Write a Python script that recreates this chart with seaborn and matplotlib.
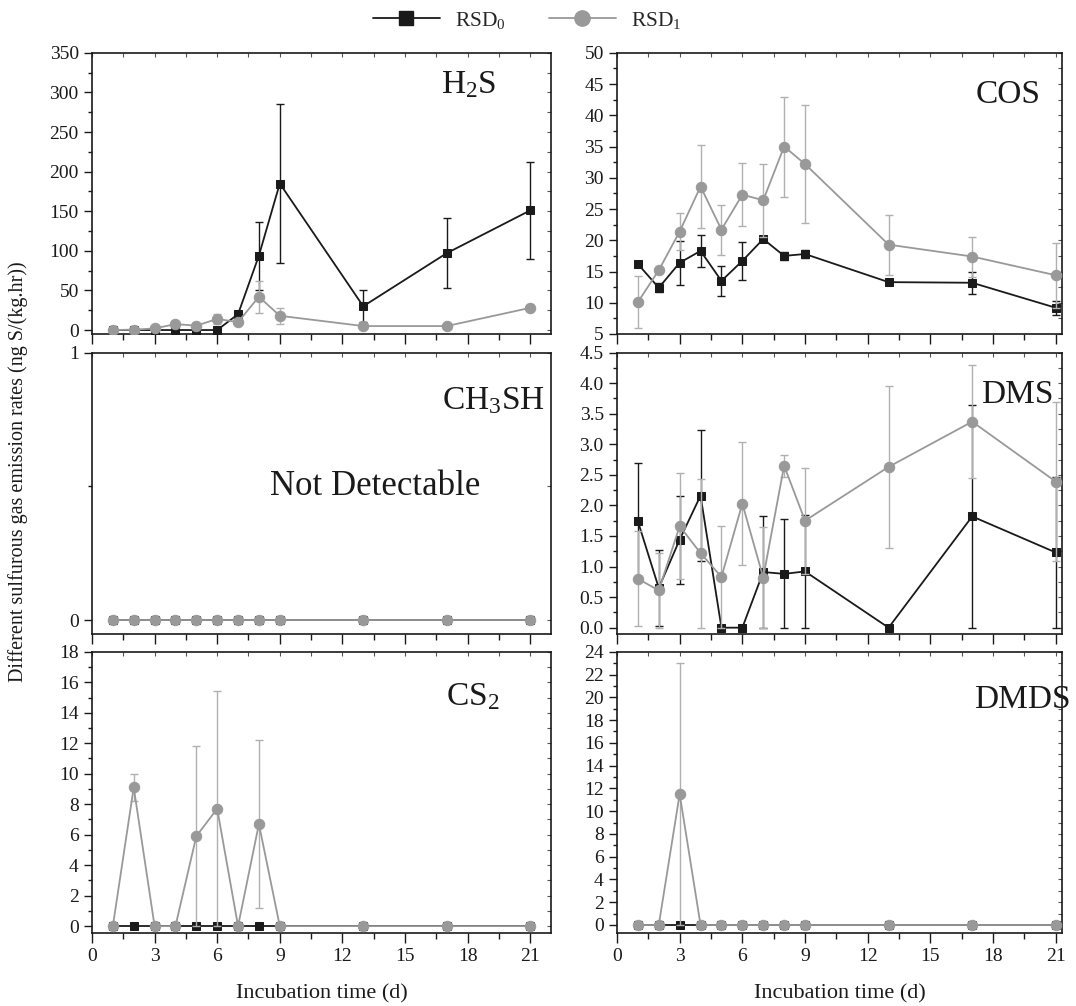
import numpy as np
import matplotlib.pyplot as plt
import seaborn as sns
from matplotlib.ticker import MultipleLocator
from matplotlib.lines import Line2D

# incubation days
days = [1, 2, 3, 4, 5, 6, 7, 8, 9, 13, 17, 21]

# H2S
h2s_rsd0 = [0, 0, 0, 0, 0, 0, 20, 94, 185, 30, 97, 151]
h2s_rsd0_err = [1, 1, 1, 1, 1, 1, 3, 43, 100, 20, 44, 61]
h2s_rsd1 = [0, 0.5, 2, 7.5, 5.5, 14, 10, 42, 18, 5, 5, 28]
h2s_rsd1_err = [1, 1, 2, 4, 3, 6, 3, 20, 10, 2, 2, 3]

# COS
cos_rsd0 = [16.2, 12.4, 16.4, 18.3, 13.5, 16.7, 20.2, 17.5, 17.8, 13.3, 13.2, 9.2]
cos_rsd0_err = [0.5, 0.7, 3.5, 2.6, 2.4, 3.0, 0.5, 0.6, 0.7, 0.4, 1.8, 1.1]
cos_rsd1 = [10.1, 15.2, 21.4, 28.6, 21.7, 27.3, 26.4, 35.0, 32.2, 19.3, 17.4, 14.4]
cos_rsd1_err = [4.2, 0.5, 3.0, 6.6, 4.0, 5.0, 5.8, 8.0, 9.5, 4.8, 3.2, 5.2]

# CH3SH (not detectable)
ch3sh_rsd0 = [0] * 12
ch3sh_rsd1 = [0] * 12
ch3sh_err = [0] * 12

# DMS
dms_rsd0 = [1.74, 0.65, 1.44, 2.16, 0, 0, 0.91, 0.88, 0.92, 0, 1.82, 1.23]
dms_rsd0_err = [0.95, 0.62, 0.72, 1.07, 0, 0, 0.91, 0.89, 0.92, 0, 1.82, 1.23]
dms_rsd1 = [0.80, 0.61, 1.66, 1.22, 0.83, 2.03, 0.82, 2.65, 1.75, 2.63, 3.37, 2.39]
dms_rsd1_err = [0.78, 0.61, 0.87, 1.22, 0.83, 1.01, 0.83, 0.18, 0.87, 1.33, 0.92, 1.30]

# CS2
cs2_rsd0 = [0] * 12
cs2_rsd0_err = [0] * 12
cs2_rsd1 = [0, 9.1, 0, 0, 5.9, 7.7, 0, 6.7, 0, 0, 0, 0]
cs2_rsd1_err = [0, 0.9, 0, 0, 5.9, 7.7, 0, 5.5, 0, 0, 0, 0]

# DMDS
dmds_rsd0 = [0] * 12
dmds_rsd0_err = [0] * 12
dmds_rsd1 = [0, 0, 11.5, 0, 0, 0, 0, 0, 0, 0, 0, 0]
dmds_rsd1_err = [0, 0, 11.5, 0, 0, 0, 0, 0, 0, 0, 0, 0]

sns.set_style('ticks')
plt.rcParams['font.family'] = ['Liberation Serif', 'DejaVu Serif']
plt.rcParams['mathtext.fontset'] = 'custom'
plt.rcParams['mathtext.rm'] = 'Liberation Serif'
plt.rcParams['mathtext.it'] = 'Liberation Serif:italic'
plt.rcParams['mathtext.default'] = 'regular'

BLACK = '#1a1a1a'
GREY = '#999999'
GREY_ERR = '#b0b0b0'

fig = plt.figure(figsize=(10.76, 10.06), dpi=100)

col_left = [0.0855, 0.5734]
col_width = [0.4266, 0.4136]
row_bottom = [0.668, 0.370, 0.0726]
row_h = 0.2795


def draw(ax, r0, e0, r1, e1):
    r0 = np.array(r0, float); e0 = np.array(e0, float)
    r1 = np.array(r1, float); e1 = np.array(e1, float)
    ax.errorbar(days, r0, yerr=[np.minimum(e0, r0), e0], fmt='none',
                ecolor=BLACK, elinewidth=1.0, capsize=3, capthick=1.0, zorder=2)
    sns.lineplot(x=days, y=r0, ax=ax, color=BLACK, marker='s', markersize=6,
                 markeredgecolor=BLACK, linewidth=1.3, zorder=3)
    ax.errorbar(days, r1, yerr=[np.minimum(e1, r1), e1], fmt='none',
                ecolor=GREY_ERR, elinewidth=1.0, capsize=3, capthick=1.0, zorder=4)
    sns.lineplot(x=days, y=r1, ax=ax, color=GREY, marker='o', markersize=7.5,
                 markeredgecolor=GREY, linewidth=1.3, zorder=5)


def style(ax, ylim, major, minor, xlabels, xlim_right):
    ax.set_xlim(0, xlim_right)
    ax.set_ylim(*ylim)
    ax.xaxis.set_major_locator(MultipleLocator(3))
    ax.xaxis.set_minor_locator(MultipleLocator(1.5))
    ax.yaxis.set_major_locator(MultipleLocator(major))
    ax.yaxis.set_minor_locator(MultipleLocator(minor))
    ax.tick_params(which='major', direction='out', length=6, width=1.0,
                   labelsize=14, color=BLACK, labelcolor=BLACK)
    ax.tick_params(which='minor', direction='out', length=3, width=1.0, color=BLACK)
    ax.tick_params(axis='x', which='major', length=7)
    ax.tick_params(axis='x', which='minor', length=4)
    if not xlabels:
        ax.tick_params(axis='x', labelbottom=False)
    for s in ax.spines.values():
        s.set_visible(True)
        s.set_linewidth(1.2)
        s.set_color(BLACK)
    top = ax.secondary_xaxis('top')
    top.xaxis.set_major_locator(MultipleLocator(1.5))
    top.tick_params(direction='in', length=3, width=0.8, labeltop=False, color='#555555')
    top.spines['top'].set_visible(False)
    right = ax.secondary_yaxis('right')
    right.yaxis.set_major_locator(MultipleLocator(major))
    right.yaxis.set_minor_locator(MultipleLocator(minor))
    right.tick_params(which='both', direction='in', length=3, width=0.8,
                      labelright=False, color='#555555')
    right.spines['right'].set_visible(False)
    ax.set_xlabel('')
    ax.set_ylabel('')


# H2S
ax = fig.add_axes([col_left[0], row_bottom[0], col_width[0], row_h])
draw(ax, h2s_rsd0, h2s_rsd0_err, h2s_rsd1, h2s_rsd1_err)
style(ax, (-5, 350), 50, 25, False, 22)
ax.text(0.82, 0.885, 'H$_2$S', transform=ax.transAxes, fontsize=24,
        ha='center', va='center', color=BLACK)

# COS
ax = fig.add_axes([col_left[1], row_bottom[0], col_width[1], row_h])
draw(ax, cos_rsd0, cos_rsd0_err, cos_rsd1, cos_rsd1_err)
style(ax, (5, 50), 5, 2.5, False, 21.3)
ax.text(0.88, 0.85, 'COS', transform=ax.transAxes, fontsize=24,
        ha='center', va='center', color=BLACK)

# CH3SH
ax = fig.add_axes([col_left[0], row_bottom[1], col_width[0], row_h])
draw(ax, ch3sh_rsd0, ch3sh_err, ch3sh_rsd1, ch3sh_err)
style(ax, (-0.05, 1.0), 1, 0.5, False, 22)
ax.text(0.875, 0.83, 'CH$_3$SH', transform=ax.transAxes, fontsize=24,
        ha='center', va='center', color=BLACK)
ax.text(0.617, 0.525, 'Not Detectable', transform=ax.transAxes, fontsize=25,
        ha='center', va='center', color=BLACK)

# DMS
ax = fig.add_axes([col_left[1], row_bottom[1], col_width[1], row_h])
draw(ax, dms_rsd0, dms_rsd0_err, dms_rsd1, dms_rsd1_err)
style(ax, (-0.1, 4.5), 0.5, 0.25, False, 21.3)
ax.yaxis.set_major_formatter(plt.FormatStrFormatter('%.1f'))
ax.text(0.90, 0.85, 'DMS', transform=ax.transAxes, fontsize=24,
        ha='center', va='center', color=BLACK)

# CS2
ax = fig.add_axes([col_left[0], row_bottom[2], col_width[0], row_h])
draw(ax, cs2_rsd0, cs2_rsd0_err, cs2_rsd1, cs2_rsd1_err)
style(ax, (-0.45, 18), 2, 1, True, 22)
ax.text(0.83, 0.84, 'CS$_2$', transform=ax.transAxes, fontsize=24,
        ha='center', va='center', color=BLACK)
ax.set_xlabel('Incubation time (d)', fontsize=16, labelpad=14, color=BLACK)

# DMDS
ax = fig.add_axes([col_left[1], row_bottom[2], col_width[1], row_h])
draw(ax, dmds_rsd0, dmds_rsd0_err, dmds_rsd1, dmds_rsd1_err)
style(ax, (-0.7, 24), 2, 1, True, 21.3)
ax.text(0.91, 0.83, 'DMDS', transform=ax.transAxes, fontsize=24,
        ha='center', va='center', color=BLACK)
ax.set_xlabel('Incubation time (d)', fontsize=16, labelpad=14, color=BLACK)

fig.text(0.017, 0.531, 'Different sulfurous gas emission rates (ng S/(kg.hr))',
         rotation=90, fontsize=14.5, ha='center', va='center', color=BLACK)

handles = [
    Line2D([], [], color=BLACK, marker='s', markersize=10, linewidth=1.3),
    Line2D([], [], color=GREY, marker='o', markersize=11, linewidth=1.3),
]
fig.legend(handles, ['RSD$_0$', 'RSD$_1$'], loc='center', ncol=2,
           bbox_to_anchor=(0.49, 0.98), frameon=False, fontsize=15.5,
           handlelength=3.1, columnspacing=2.0, handletextpad=0.7)

fig.savefig('out.png', dpi=100)
